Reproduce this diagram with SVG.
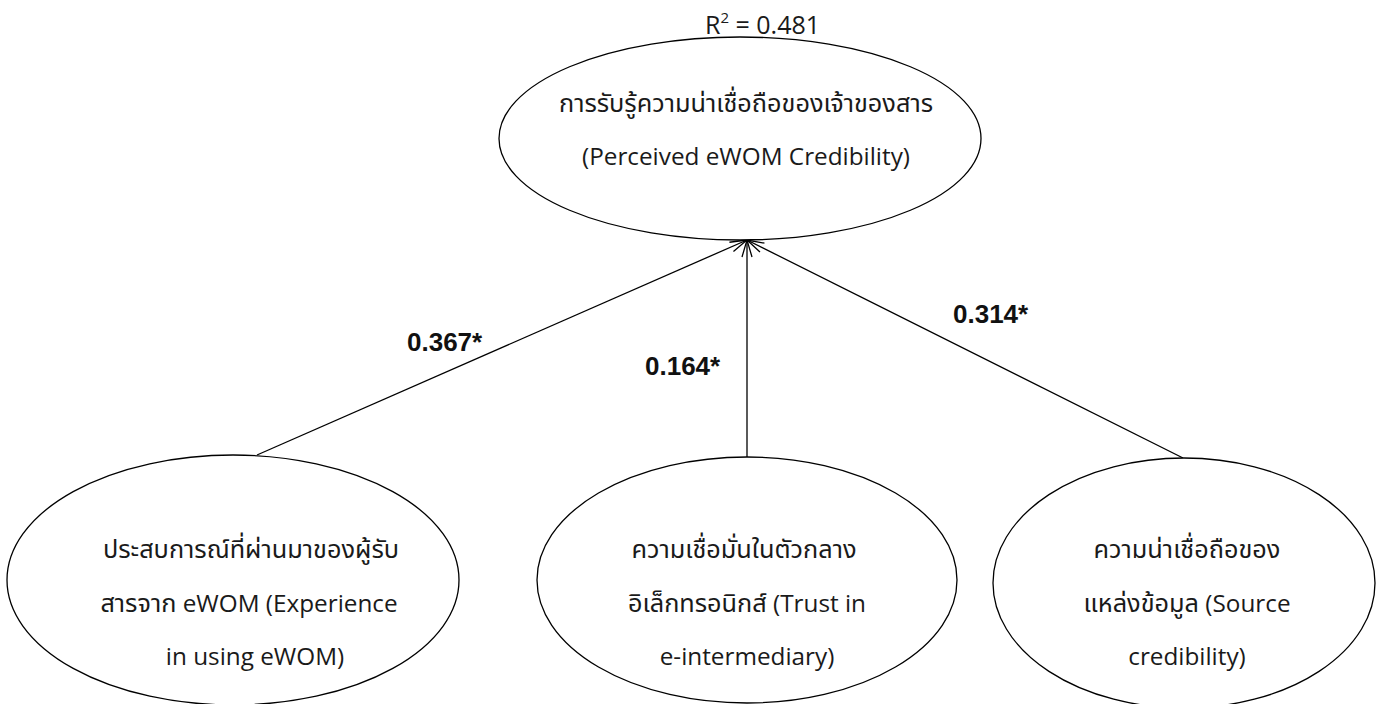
<svg xmlns="http://www.w3.org/2000/svg" width="1382" height="704" viewBox="0 0 1382 704">
  <defs>
    <style>
      .node { fill: #ffffff; stroke: #000000; stroke-width: 1.3; }
      .edge { fill: none; stroke: #000000; stroke-width: 1.3; }
      .lbl { font-family: "Open Sans", "Noto Sans", "Noto Sans Thai", sans-serif; font-size: 24.3px; fill: #1a1a1a; text-anchor: middle; }
      .th { font-size: 25.3px; }
      .coef { font-family: "Liberation Sans", Arial, sans-serif; font-size: 26px; font-weight: bold; fill: #111111; }
      .r2 { font-family: "Open Sans", "Noto Sans", sans-serif; font-size: 25px; fill: #1a1a1a; }
    </style>
    <marker id="openHead" markerUnits="userSpaceOnUse" markerWidth="24" markerHeight="16" viewBox="-20 -8 24 16" refX="0" refY="0" orient="auto">
      <path d="M-17,-5 L0,0 L-17,5" fill="none" stroke="#000000" stroke-width="1.3"/>
    </marker>
  </defs>

  <rect width="1382" height="704" fill="#ffffff"/>

  <!-- paths into the outcome construct -->
  <g id="connectors">
    <line class="edge" x1="257" y1="455" x2="747" y2="240" marker-end="url(#openHead)"/>
    <line class="edge" x1="747" y1="458" x2="747" y2="240" marker-end="url(#openHead)"/>
    <line class="edge" x1="1183" y1="458" x2="747" y2="240" marker-end="url(#openHead)"/>
    <text class="coef" x="407" y="351">0.367*</text>
    <text class="coef" x="645" y="375">0.164*</text>
    <text class="coef" x="953" y="323">0.314*</text>
  </g>

  <!-- outcome: perceived eWOM credibility -->
  <g id="credibility">
    <text class="r2" x="705" y="34">R<tspan dy="-11" font-size="15">2</tspan><tspan dy="11"> = 0.481</tspan></text>
    <ellipse class="node" cx="740" cy="138.5" rx="241" ry="101.5"/>
    <text class="lbl th" x="746" y="112">การรับรู้ความน่าเชื่อถือของเจ้าของสาร</text>
    <text class="lbl" x="746" y="165">(Perceived eWOM Credibility)</text>
  </g>

  <!-- predictor: experience in using eWOM -->
  <g id="experience">
    <ellipse class="node" cx="233" cy="580" rx="226" ry="125"/>
    <text class="lbl th" x="251" y="558">ประสบการณ์ที่ผ่านมาของผู้รับ</text>
    <text class="lbl" x="249" y="612"><tspan class="th">สารจาก</tspan> eWOM (Experience</text>
    <text class="lbl" x="255" y="665">in using eWOM)</text>
  </g>

  <!-- predictor: trust in e-intermediary -->
  <g id="trust">
    <ellipse class="node" cx="747" cy="580" rx="210" ry="123"/>
    <text class="lbl th" x="744" y="558">ความเชื่อมั่นในตัวกลาง</text>
    <text class="lbl" x="747" y="612"><tspan class="th">อิเล็กทรอนิกส์</tspan> (Trust in</text>
    <text class="lbl" x="747" y="665">e-intermediary)</text>
  </g>

  <!-- predictor: source credibility -->
  <g id="source">
    <ellipse class="node" cx="1184" cy="583" rx="191" ry="125"/>
    <text class="lbl th" x="1187" y="558">ความน่าเชื่อถือของ</text>
    <text class="lbl" x="1187" y="612"><tspan class="th">แหล่งข้อมูล</tspan> (Source</text>
    <text class="lbl" x="1187" y="665">credibility)</text>
  </g>
</svg>
